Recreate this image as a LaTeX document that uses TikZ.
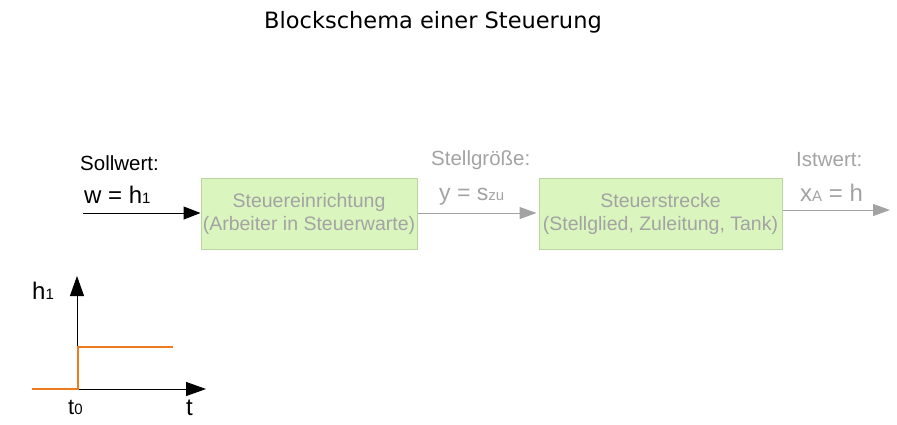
\documentclass[tikz,border=0pt]{standalone}
\usepackage{fontspec}
\setmainfont{Liberation Sans}
\newfontfamily\titlefont{DejaVu Sans}
\usetikzlibrary{arrows.meta}
\definecolor{boxfill}{HTML}{DBF5BE}
\definecolor{boxdraw}{HTML}{B9D3A2}
\definecolor{greytext}{HTML}{A3A3A3}
\definecolor{steporange}{HTML}{F07A1E}
\newcommand{\smallsub}[1]{{\fontsize{15}{15}\selectfont #1}}
\begin{document}
\begin{tikzpicture}[x=1pt,y=-1pt,
  block/.style={draw=boxdraw, line width=1pt, fill=boxfill, text=greytext, align=center, font=\fontsize{19.5}{23}\selectfont, inner sep=0pt},
  lbl/.style={inner sep=0pt, anchor=west},
  blackarrow/.style={draw=black, line width=1pt, -{Triangle[length=17pt,width=13pt]}},
  greyarrow/.style={draw=greytext, line width=1pt, -{Triangle[length=17pt,width=12pt]}},
  axisarrow/.style={draw=black, line width=1pt, -{Triangle[length=20pt,width=14pt]}},
  stepline/.style={draw=steporange, line width=1.6pt}
]
\useasboundingbox (0,0) rectangle (897,424);
\node[inner sep=0pt, font=\titlefont\fontsize{22.5}{26}\selectfont] (title) at (433,22) {Blockschema einer Steuerung};

\node[block, minimum width=216pt, minimum height=71pt] (b1) at (309,213.5) {Steuereinrichtung\\(Arbeiter in Steuerwarte)};
\node[block, minimum width=243pt, minimum height=71pt] (b2) at (660.5,213.5) {Steuerstrecke\\(Stellglied, Zuleitung, Tank)};

\coordinate (in) at (83,213);
\coordinate (out) at (890,210);
\draw[blackarrow] (in) -- (b1.west |- in);
\draw[greyarrow] (b1.east |- in) -- ([xshift=-2pt]b2.west |- in);
\draw[greyarrow] (b2.east |- out) -- (out);

\node[lbl, font=\fontsize{20.5}{24}\selectfont] (soll) at (80,163) {Sollwert:};
\node[lbl, font=\fontsize{24}{28}\selectfont] (w) at (84,195) {w = h\smallsub{1}};
\node[lbl, text=greytext, font=\fontsize{20.5}{24}\selectfont] (stell) at (431,160) {Stellgröße:};
\node[lbl, text=greytext, font=\fontsize{23}{27}\selectfont] (y) at (439,197) {y = s\smallsub{zu}};
\node[lbl, text=greytext, font=\fontsize{20.5}{24}\selectfont] (ist) at (796,160) {Istwert:};
\node[lbl, text=greytext, font=\fontsize{24}{28}\selectfont] (x) at (800,193) {x\smallsub{A} = h};

% graph
\coordinate (o) at (77,389);
\coordinate (ytip) at (77,276);
\coordinate (xtip) at (206,389);
\coordinate (s0) at (32,389);
\coordinate (s1) at (78,389);
\coordinate (s2) at (78,347);
\coordinate (s3) at (173,347);
\draw[axisarrow] (o) -- (ytip);
\draw[axisarrow] (o) -- (xtip);
\draw[stepline] (s0) -- (s1) -- (s2) -- (s3);
\node[lbl, font=\fontsize{24}{28}\selectfont] (h) at (32,291) {h\smallsub{1}};
\node[lbl, font=\fontsize{22}{26}\selectfont] (t0) at (68,407) {t\smallsub{0}};
\node[lbl, font=\fontsize{24}{28}\selectfont] (t) at (186,408) {t};
\end{tikzpicture}
\end{document}
